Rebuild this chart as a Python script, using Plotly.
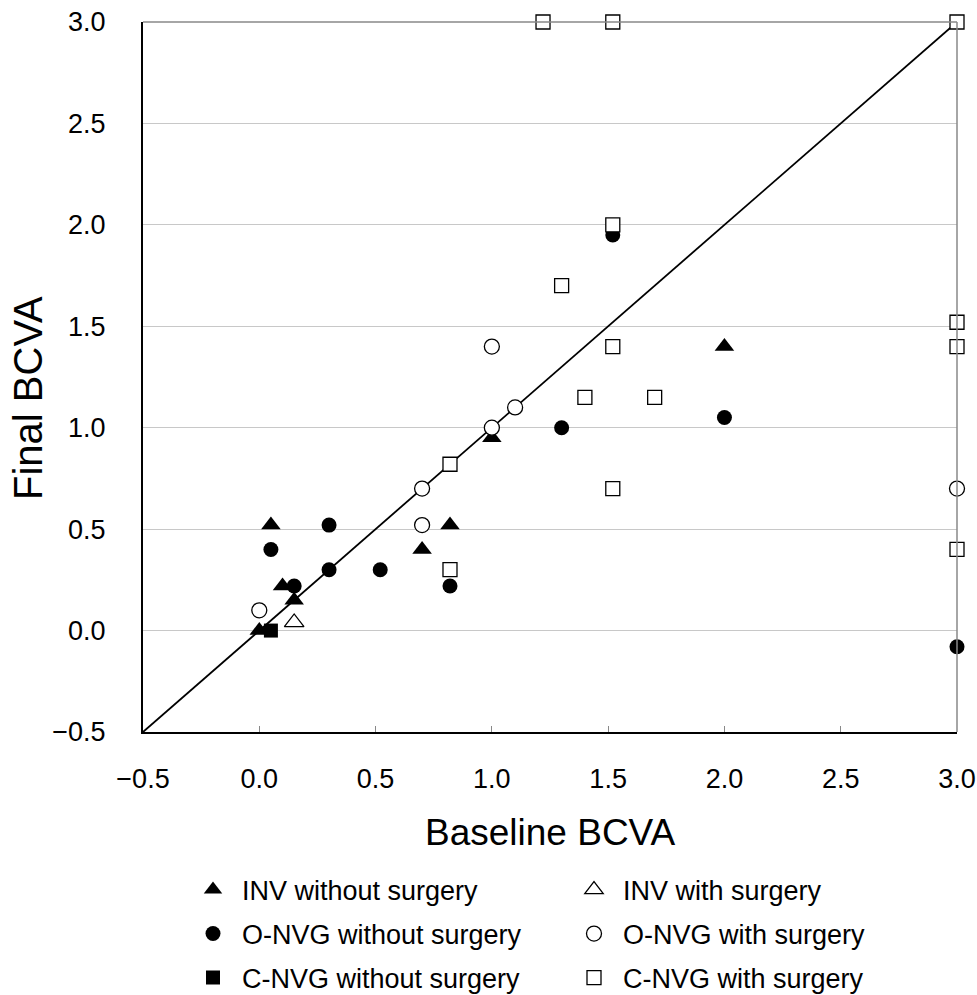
import plotly.graph_objects as go

# ---- data (Baseline BCVA, Final BCVA) ----
inv_wo_x = [0.05, 0.1, 0.15, 0.0, 0.7, 0.82, 1.0, 2.0]
inv_wo_y = [0.52, 0.22, 0.15, 0.0, 0.4, 0.52, 0.95, 1.4]

inv_w_x = [0.15]
inv_w_y = [0.04]

onvg_wo_x = [0.05, 0.15, 0.3, 0.3, 0.52, 0.82, 1.3, 1.52, 2.0, 3.0]
onvg_wo_y = [0.4, 0.22, 0.52, 0.3, 0.3, 0.22, 1.0, 1.95, 1.05, -0.08]

onvg_w_x = [0.0, 0.7, 0.7, 1.0, 1.0, 1.1, 3.0]
onvg_w_y = [0.1, 0.7, 0.52, 1.4, 1.0, 1.1, 0.7]

cnvg_wo_x = [0.05]
cnvg_wo_y = [0.0]

cnvg_w_x = [1.22, 1.52, 3.0, 1.52, 1.3, 1.52, 1.4, 1.7, 0.82, 1.52, 0.82, 3.0, 3.0, 3.0]
cnvg_w_y = [3.0, 3.0, 3.0, 2.0, 1.7, 1.4, 1.15, 1.15, 0.82, 0.7, 0.3, 1.52, 1.4, 0.4]

diag = [-0.5, 3.0]
tick_vals = [-0.5, 0.0, 0.5, 1.0, 1.5, 2.0, 2.5, 3.0]
tick_text = ["\u22120.5", "0.0", "0.5", "1.0", "1.5", "2.0", "2.5", "3.0"]

FONT = "Liberation Sans, Arial, Helvetica, sans-serif"

fig = go.Figure()

fig.add_trace(go.Scatter(x=diag, y=diag, mode="lines",
                         line=dict(color="black", width=1.8),
                         showlegend=False, hoverinfo="skip"))

def add(x, y, name, symbol, size, filled, legend):
    fig.add_trace(go.Scatter(
        x=x, y=y, mode="markers", name=name, legend=legend,
        marker=dict(symbol=symbol, size=size,
                    color="black" if filled else "white",
                    line=dict(color="black", width=0 if filled else 1.3)),
        cliponaxis=False))

add(inv_wo_x, inv_wo_y, "INV without surgery", "triangle-up", 17, True, "legend")
add(inv_w_x, inv_w_y, "INV with surgery", "triangle-up", 17, False, "legend")
add(onvg_wo_x, onvg_wo_y, "O-NVG without surgery", "circle", 15, True, "legend2")
add(onvg_w_x, onvg_w_y, "O-NVG with surgery", "circle", 15, False, "legend2")
add(cnvg_wo_x, cnvg_wo_y, "C-NVG without surgery", "square", 14, True, "legend3")
add(cnvg_w_x, cnvg_w_y, "C-NVG with surgery", "square", 14, False, "legend3")

PLOT_L, PLOT_R, PLOT_T, PLOT_B = 143, 957, 22, 732
W = PLOT_R - PLOT_L
H = PLOT_B - PLOT_T

def py(p):
    return (PLOT_B - p) / H

def px(p):
    return (p - PLOT_L) / W

def leg(row_y):
    return dict(orientation="h", x=px(184), xanchor="left", y=py(row_y), yanchor="middle",
                entrywidth=318, entrywidthmode="pixels",
                font=dict(size=27, family=FONT, color="black"),
                itemwidth=48, bgcolor="rgba(0,0,0,0)", borderwidth=0)

fig.update_layout(
    width=977, height=995,
    margin=dict(l=PLOT_L, r=977 - PLOT_R, t=PLOT_T, b=995 - PLOT_B, autoexpand=False),
    paper_bgcolor="white", plot_bgcolor="white",
    font=dict(family=FONT, color="black"),
    xaxis=dict(range=[-0.5, 3.0], tickvals=tick_vals, ticktext=tick_text,
               showgrid=False, zeroline=False,
               showline=True, linecolor="black", linewidth=2, mirror=False,
               ticks="inside", ticklen=6, tickcolor="#888", tickwidth=1,
               tickfont=dict(size=27, family=FONT),
               ticklabelstandoff=22),
    yaxis=dict(range=[-0.5, 3.0], tickvals=tick_vals, ticktext=tick_text,
               showgrid=True, gridcolor="#c8c8c8", gridwidth=1, zeroline=False,
               showline=True, linecolor="black", linewidth=2, mirror=False,
               ticks="", tickfont=dict(size=27, family=FONT),
               ticklabelstandoff=30),
    legend=leg(890),
    legend2=leg(934),
    legend3=leg(978),
    shapes=[
        dict(type="line", xref="paper", yref="paper", x0=0, x1=1, y0=1, y1=1,
             line=dict(color="#888", width=1.5)),
        dict(type="line", xref="paper", yref="paper", x0=1, x1=1, y0=0, y1=1,
             line=dict(color="#888", width=1.5)),
    ],
    annotations=[
        dict(text="Baseline BCVA", xref="paper", yref="paper", x=0.5,
             y=py(832), xanchor="center", yanchor="middle", showarrow=False,
             font=dict(size=37, family=FONT)),
        dict(text="Final BCVA", xref="paper", yref="paper", x=px(28),
             y=py(398), xanchor="center", yanchor="middle", showarrow=False,
             textangle=-90, font=dict(size=40, family=FONT)),
    ],
)

fig.write_html("out.html")
